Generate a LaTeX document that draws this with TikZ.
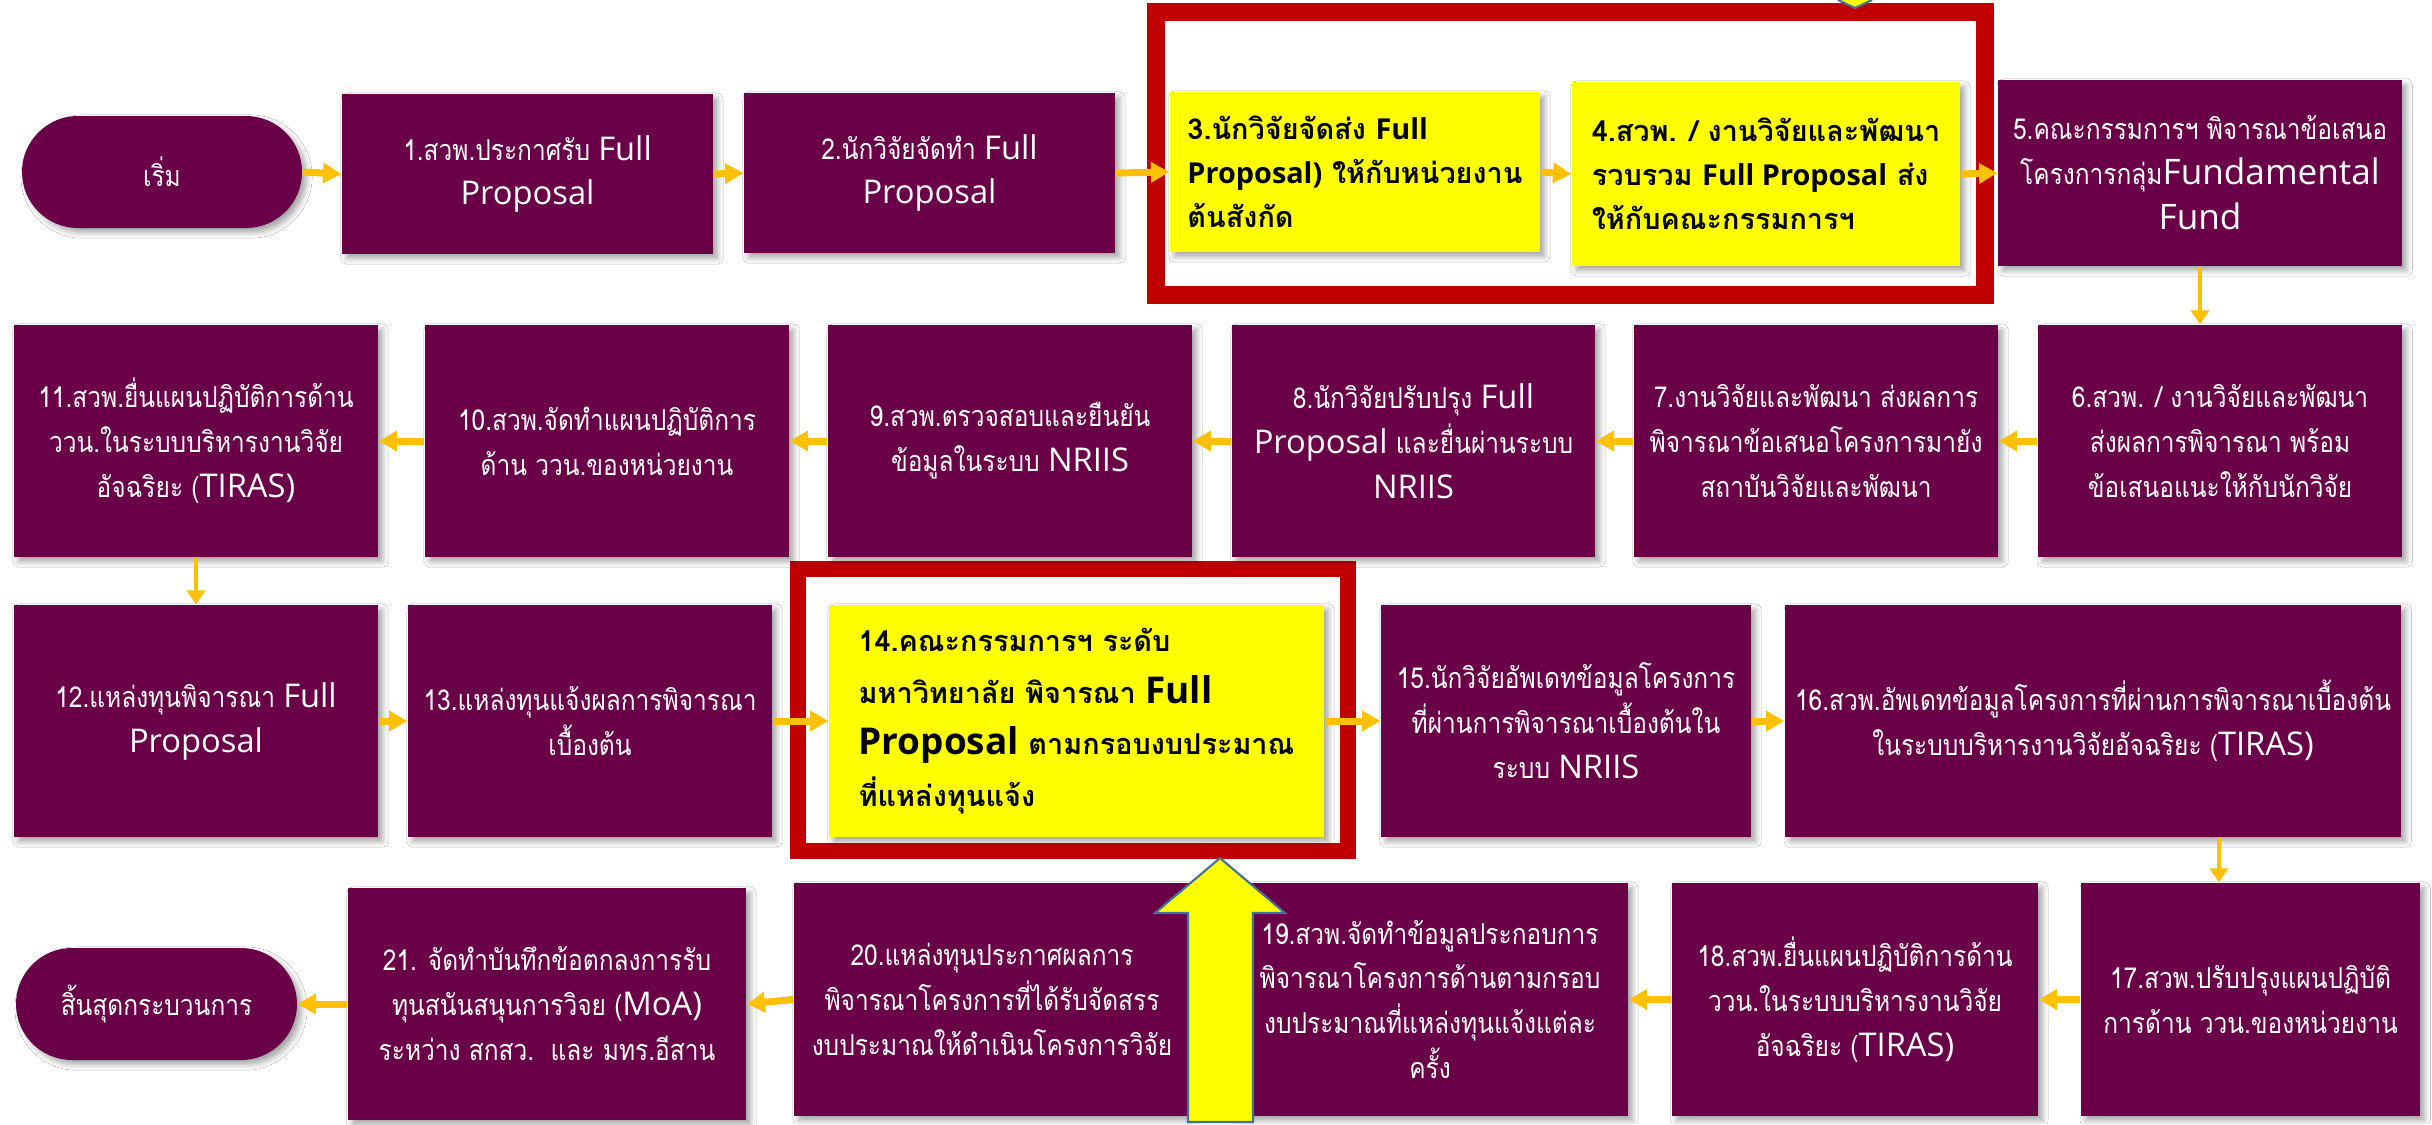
\documentclass[tikz,border=0pt]{standalone}
\usepackage{fontspec}
\setmainfont{Loma}[Script=Thai, FakeStretch=0.85]
\newfontfamily\thaibold{Loma}[Script=Thai]
\newfontfamily\latf{Open Sans}
\usetikzlibrary{arrows.meta,shapes.misc,shadows.blur}

\definecolor{plum}{HTML}{6A0047}
\definecolor{flowarrow}{HTML}{FFC000}
\definecolor{frame}{HTML}{C00000}
\definecolor{hilite}{HTML}{FFFF00}
\definecolor{edge}{HTML}{41719C}

% Latin words inside the Thai text
\newcommand\EN[1]{{\latf\fontsize{9.3}{12.8}\selectfont #1}}
\newcommand\ENB[1]{{\latf\bfseries\fontsize{8.2}{12.5}\selectfont #1}}
\newcommand\ENL[1]{{\latf\bfseries\fontsize{10.5}{14.7}\selectfont #1}}

\tikzset{
  softshadow/.style={blur shadow={shadow xshift=1.3pt, shadow yshift=-1.3pt,
      shadow blur radius=1.6pt, shadow opacity=35}},
  sz/.style 2 args={minimum width=#1mm, minimum height=#2mm},
  pbox/.style={fill=plum, text=white, align=center, inner sep=0pt,
      softshadow, font=\fontsize{8.2}{12.8}\selectfont},
  ybox/.style={fill=hilite, text=black, align=left, inner sep=0pt,
      softshadow, font=\thaibold\bfseries\fontsize{8.2}{12.5}\selectfont},
  terminal/.style={rounded rectangle, fill=plum, text=white, inner sep=0pt,
      softshadow, font=\fontsize{8.2}{12.8}\selectfont},
  redframe/.style={draw=frame},
  harr/.style={draw=flowarrow, line width=0.7mm,
      -{Triangle[width=5.6pt,length=5.2pt]}},
  varr/.style={draw=flowarrow, line width=0.4mm,
      -{Triangle[width=5.2pt,length=4pt]}},
  bigarrow/.style={fill=hilite, draw=edge, line width=0.6pt, line join=miter},
}

\begin{document}
\begin{tikzpicture}[x=0.1mm, y=-0.1mm]
\useasboundingbox[fill=white] (0,0) rectangle (2432,1124);

% highlight frames
\draw[redframe, line width=1.8mm] (1156,12) rectangle (1985,295);
\draw[redframe, line width=1.6mm] (798,569) rectangle (1347.5,851);

% row 1
\node[terminal, sz={28}{11.2}] (s) at (162,172) {เริ่ม};
\node[pbox, sz={37.1}{16}] (b1) at (527.5,174) {1.สวพ.ประกาศรับ \EN{Full}\\\EN{Proposal}};
\node[pbox, sz={37.1}{16}] (b2) at (929.5,173) {2.นักวิจัยจัดทำ \EN{Full}\\\EN{Proposal}};
\node[ybox, sz={37}{16}] (b3) at (1355,172) {3.นักวิจัยจัดส่ง \ENB{Full}\\\ENB{Proposal)} ให้กับหน่วยงาน\\ต้นสังกัด};
\node[ybox, sz={38.8}{18.4}] (b4) at (1766,174) {4.สวพ. / งานวิจัยและพัฒนา\\รวบรวม \ENB{Full Proposal} ส่ง\\ให้กับคณะกรรมการฯ};
\node[pbox, sz={40.4}{18.6}] (b5) at (2200,173) {5.คณะกรรมการฯ พิจารณาข้อเสนอ\\โครงการกลุ่ม{\latf\fontsize{10}{12.8}\selectfont Fundamental}\\{\latf\fontsize{10}{12.8}\selectfont Fund}};

% row 2
\node[pbox, sz={36.4}{23.2}] (b6) at (2220,441) {6.สวพ. / งานวิจัยและพัฒนา\\ส่งผลการพิจารณา พร้อม\\ข้อเสนอแนะให้กับนักวิจัย};
\node[pbox, sz={36.4}{23.2}] (b7) at (1816,441) {7.งานวิจัยและพัฒนา ส่งผลการ\\พิจารณาข้อเสนอโครงการมายัง\\สถาบันวิจัยและพัฒนา};
\node[pbox, sz={36.3}{23.2}] (b8) at (1413.5,441) {8.นักวิจัยปรับปรุง \EN{Full}\\\EN{Proposal} และยื่นผ่านระบบ\\\EN{NRIIS}};
\node[pbox, sz={36.4}{23.2}] (b9) at (1010,441) {9.สวพ.ตรวจสอบและยืนยัน\\ข้อมูลในระบบ \EN{NRIIS}};
\node[pbox, sz={36.4}{23.2}] (b10) at (607,441) {10.สวพ.จัดทำแผนปฏิบัติการ\\ด้าน ววน.ของหน่วยงาน};
\node[pbox, sz={36.4}{23.2}] (b11) at (196,441) {11.สวพ.ยื่นแผนปฏิบัติการด้าน\\ววน.ในระบบบริหารงานวิจัย\\อัจฉริยะ (\EN{TIRAS)}};

% row 3
\node[pbox, sz={36.4}{23.2}] (b12) at (196,721) {12.แหล่งทุนพิจารณา \EN{Full}\\\EN{Proposal}};
\node[pbox, sz={36.4}{23.2}] (b13) at (590,721) {13.แหล่งทุนแจ้งผลการพิจารณา\\เบื้องต้น};
\node[ybox, sz={49.5}{23.2}, font=\thaibold\bfseries\fontsize{8.2}{14.7}\selectfont] (b14) at (1076.5,721) {14.คณะกรรมการฯ ระดับ\\มหาวิทยาลัย พิจารณา \ENL{Full}\\\ENL{Proposal} ตามกรอบงบประมาณ\\ที่แหล่งทุนแจ้ง};
\node[pbox, sz={37}{23.2}] (b15) at (1566,721) {15.นักวิจัยอัพเดทข้อมูลโครงการ\\ที่ผ่านการพิจารณาเบื้องต้นใน\\ระบบ \EN{NRIIS}};
\node[pbox, sz={61.6}{23.2}] (b16) at (2093,721) {16.สวพ.อัพเดทข้อมูลโครงการที่ผ่านการพิจารณาเบื้องต้น\\ในระบบบริหารงานวิจัยอัจฉริยะ (\EN{TIRAS)}};

% row 4
\node[pbox, sz={33.9}{23.3}] (b17) at (2250.5,999.5) {17.สวพ.ปรับปรุงแผนปฏิบัติ\\การด้าน ววน.ของหน่วยงาน};
\node[pbox, sz={36.6}{23.3}] (b18) at (1855,999.5) {18.สวพ.ยื่นแผนปฏิบัติการด้าน\\ววน.ในระบบบริหารงานวิจัย\\อัจฉริยะ (\EN{TIRAS)}};
\node[pbox, sz={39.6}{23.3}] (b19) at (1430,999.5) {19.สวพ.จัดทำข้อมูลประกอบการ\\พิจารณาโครงการด้านตามกรอบ\\งบประมาณที่แหล่งทุนแจ้งแต่ละ\\ครั้ง};
\node[pbox, sz={39.6}{23.3}] (b20) at (992,999.5) {20.แหล่งทุนประกาศผลการ\\พิจารณาโครงการที่ได้รับจัดสรร\\งบประมาณให้ดำเนินโครงการวิจัย};
\node[pbox, sz={39.8}{23.2}] (b21) at (547,1004) {21. จัดทำบันทึกข้อตกลงการรับ\\ทุนสนันสนุนการวิจย (\EN{MoA)}\\ระหว่าง สกสว.~~และ มทร.อีสาน};
\node[terminal, sz={28.1}{11.2}] (e) at (156.5,1004) {สิ้นสุดกระบวนการ};

% flow connectors
\coordinate (c16) at (2219,0);
\draw[harr] (s.east) -- (b1.west);
\draw[harr] (b1.east) -- (b2.west);
\draw[harr] (b2.east) -- (b3.west);
\draw[harr] (b3.east) -- (b4.west);
\draw[harr] (b4.east) -- (b5.west);
\draw[varr] (b5.south) -- (b5.south |- b6.north);
\draw[harr] (b6.west) -- (b7.east);
\draw[harr] (b7.west) -- (b8.east);
\draw[harr] (b8.west) -- (b9.east);
\draw[harr] (b9.west) -- (b10.east);
\draw[harr] (b10.west) -- (b11.east);
\draw[varr] (b11.south) -- (b12.north);
\draw[harr] (b12.east) -- (b13.west);
\draw[harr] (b13.east) -- (b14.west);
\draw[harr] (b14.east) -- (b15.west);
\draw[harr] (b15.east) -- (b16.west);
\draw[varr] (b16.south -| c16) -- (b17.north -| c16);
\draw[harr] (b17.west) -- (b18.east);
\draw[harr] (b18.west) -- (b19.east);
\draw[harr] (b20.west) -- (b21.east);
\draw[harr] (b21.west) -- (e.east);

% block arrows pointing at the highlighted steps
\draw[bigarrow] (1220,858) -- (1285,913) -- (1253,913) -- (1253,1122)
  -- (1188,1122) -- (1188,913) -- (1155,913) -- cycle;
\fill[hilite] (1838,0) -- (1855,8) -- (1872,0) -- cycle;
\draw[edge, line width=0.6pt] (1838,0) -- (1855,8) -- (1872,0);
\end{tikzpicture}
\end{document}
